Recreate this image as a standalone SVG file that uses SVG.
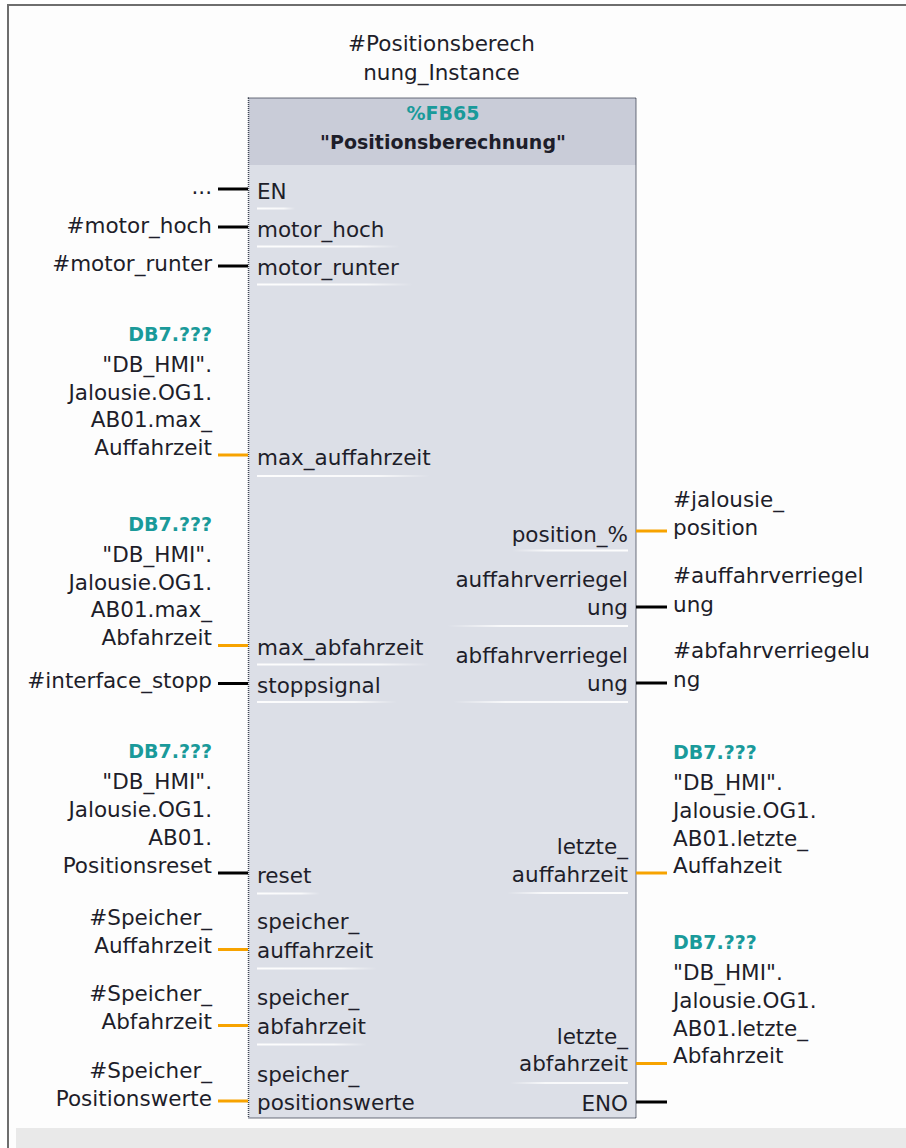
<svg xmlns="http://www.w3.org/2000/svg" width="906" height="1148" viewBox="0 0 906 1148">
<defs>
<style>
.t{font-family:"DejaVu Sans","Liberation Sans",sans-serif;font-size:21.5px;fill:#1e1e2a}
.e{text-anchor:end}
.c{text-anchor:middle}
.a{font-weight:bold;font-size:19px;fill:#1a9a9a}
.hb{font-weight:bold;font-size:19px;fill:#1e1e2a}
.w{stroke-width:3;fill:none}
.k{stroke:#000}
.o{stroke:#f7a300}
</style>
<linearGradient id="gL" x1="0" y1="0" x2="1" y2="0">
<stop offset="0" stop-color="#fff" stop-opacity="0.95"/>
<stop offset="0.7" stop-color="#fff" stop-opacity="0.8"/>
<stop offset="1" stop-color="#fff" stop-opacity="0"/>
</linearGradient>
<linearGradient id="gR" x1="1" y1="0" x2="0" y2="0">
<stop offset="0" stop-color="#fff" stop-opacity="0.95"/>
<stop offset="0.7" stop-color="#fff" stop-opacity="0.8"/>
<stop offset="1" stop-color="#fff" stop-opacity="0"/>
</linearGradient>
</defs>
<rect x="0" y="0" width="906" height="1148" fill="#fff"/>
<rect x="8" y="5" width="898" height="1143" fill="#fdfdfd"/>
<line x1="7" y1="5" x2="906" y2="5" stroke="#6e6e6e" stroke-width="2"/>
<line x1="8" y1="4" x2="8" y2="1148" stroke="#6e6e6e" stroke-width="2"/>
<rect x="16" y="1128" width="890" height="20" fill="#e9e9e9"/>

<g id="instance">
<text class="t c" x="441.5" y="51">#Positionsberech</text>
<text class="t c" x="441.5" y="79.5">nung_Instance</text>
</g>

<g id="fb65">
<rect x="248.5" y="98" width="387.5" height="1020" fill="#dcdfe7"/>
<rect x="248.5" y="98" width="387.5" height="67" fill="#c9ccd8"/>
<rect x="248.5" y="98" width="387.5" height="1020" fill="none" stroke="#3e4452" stroke-width="1.5" stroke-dasharray="1 1"/>
<text class="t c a" x="443" y="119.5">%FB65</text>
<text class="t c hb" x="443" y="148.5">"Positionsberechnung"</text>
<g id="fb65-inputs">
<text class="t" x="257" y="199">EN</text>
<text class="t" x="257" y="237">motor_hoch</text>
<text class="t" x="257" y="275">motor_runter</text>
<text class="t" x="257" y="465">max_auffahrzeit</text>
<text class="t" x="257" y="655">max_abfahrzeit</text>
<text class="t" x="257" y="693">stoppsignal</text>
<text class="t" x="257" y="883">reset</text>
<text class="t" x="257" y="929">speicher_</text>
<text class="t" x="257" y="958">auffahrzeit</text>
<text class="t" x="257" y="1005">speicher_</text>
<text class="t" x="257" y="1033.5">abfahrzeit</text>
<text class="t" x="257" y="1081.5">speicher_</text>
<text class="t" x="257" y="1110">positionswerte</text>
<rect x="257" y="207.5" width="38" height="2" fill="url(#gL)"/>
<rect x="257" y="245.5" width="143" height="2" fill="url(#gL)"/>
<rect x="257" y="283.5" width="156" height="2" fill="url(#gL)"/>
<rect x="257" y="475" width="173" height="2" fill="url(#gL)"/>
<rect x="257" y="663.5" width="173" height="2" fill="url(#gL)"/>
<rect x="257" y="701" width="140" height="2" fill="url(#gL)"/>
<rect x="257" y="892.5" width="63" height="2" fill="url(#gL)"/>
<rect x="257" y="967.5" width="120" height="2" fill="url(#gL)"/>
<rect x="257" y="1043.5" width="110" height="2" fill="url(#gL)"/>
</g>
<g id="fb65-outputs">
<text class="t e" x="628" y="541.5">position_%</text>
<text class="t e" x="628" y="587">auffahrverriegel</text>
<text class="t e" x="628" y="615">ung</text>
<text class="t e" x="628" y="662.5">abffahrverriegel</text>
<text class="t e" x="628" y="690.5">ung</text>
<text class="t e" x="628" y="853.5">letzte_</text>
<text class="t e" x="628" y="881.5">auffahrzeit</text>
<text class="t e" x="628" y="1043.5">letzte_</text>
<text class="t e" x="628" y="1071">abfahrzeit</text>
<text class="t e" x="628" y="1111">ENO</text>
<rect x="512" y="549.5" width="116" height="2" fill="url(#gR)"/>
<rect x="447" y="625" width="181" height="2" fill="url(#gR)"/>
<rect x="453" y="701" width="175" height="2" fill="url(#gR)"/>
<rect x="507" y="892" width="121" height="2" fill="url(#gR)"/>
<rect x="510" y="1082" width="118" height="2" fill="url(#gR)"/>
</g>
</g>

<g id="in-en"><text class="t e" x="212" y="194">...</text></g>
<g id="in-motor-hoch"><text class="t e" x="212" y="233">#motor_hoch</text></g>
<g id="in-motor-runter"><text class="t e" x="212" y="270.5">#motor_runter</text></g>
<g id="in-max-auf">
<text class="t e a" x="212" y="340.5">DB7.???</text>
<text class="t e" x="212" y="371.5">"DB_HMI".</text>
<text class="t e" x="212" y="399.5">Jalousie.OG1.</text>
<text class="t e" x="212" y="427.2">AB01.max_</text>
<text class="t e" x="212" y="455">Auffahrzeit</text>
</g>
<g id="in-max-ab">
<text class="t e a" x="212" y="530.5">DB7.???</text>
<text class="t e" x="212" y="561.5">"DB_HMI".</text>
<text class="t e" x="212" y="589.5">Jalousie.OG1.</text>
<text class="t e" x="212" y="617.2">AB01.max_</text>
<text class="t e" x="212" y="645">Abfahrzeit</text>
</g>
<g id="in-stopp"><text class="t e" x="212" y="688">#interface_stopp</text></g>
<g id="in-reset">
<text class="t e a" x="212" y="758.2">DB7.???</text>
<text class="t e" x="212" y="789.2">"DB_HMI".</text>
<text class="t e" x="212" y="817.2">Jalousie.OG1.</text>
<text class="t e" x="212" y="845">AB01.</text>
<text class="t e" x="212" y="872.7">Positionsreset</text>
</g>
<g id="in-sp-auf">
<text class="t e" x="212" y="925">#Speicher_</text>
<text class="t e" x="212" y="952.7">Auffahrzeit</text>
</g>
<g id="in-sp-ab">
<text class="t e" x="212" y="1001">#Speicher_</text>
<text class="t e" x="212" y="1029">Abfahrzeit</text>
</g>
<g id="in-sp-pos">
<text class="t e" x="212" y="1078.3">#Speicher_</text>
<text class="t e" x="212" y="1106">Positionswerte</text>
</g>

<g id="out-position">
<text class="t" x="673" y="506.5">#jalousie_</text>
<text class="t" x="673" y="535">position</text>
</g>
<g id="out-auf-verr">
<text class="t" x="673" y="583">#auffahrverriegel</text>
<text class="t" x="673" y="611.5">ung</text>
</g>
<g id="out-ab-verr">
<text class="t" x="673" y="658">#abfahrverriegelu</text>
<text class="t" x="673" y="686.5">ng</text>
</g>
<g id="out-letzte-auf">
<text class="t a" x="673" y="758.8">DB7.???</text>
<text class="t" x="673" y="789.8">"DB_HMI".</text>
<text class="t" x="673" y="817.8">Jalousie.OG1.</text>
<text class="t" x="673" y="845.5">AB01.letzte_</text>
<text class="t" x="673" y="873.3">Auffahzeit</text>
</g>
<g id="out-letzte-ab">
<text class="t a" x="673" y="948.8">DB7.???</text>
<text class="t" x="673" y="979.8">"DB_HMI".</text>
<text class="t" x="673" y="1007.8">Jalousie.OG1.</text>
<text class="t" x="673" y="1035.5">AB01.letzte_</text>
<text class="t" x="673" y="1063.3">Abfahrzeit</text>
</g>

<g id="connectors">
<line class="w k" x1="218" y1="189" x2="248" y2="189"/>
<line class="w k" x1="218" y1="227" x2="248" y2="227"/>
<line class="w k" x1="218" y1="266" x2="248" y2="266"/>
<line class="w o" x1="218" y1="455" x2="248" y2="455"/>
<line class="w o" x1="218" y1="645.5" x2="248" y2="645.5"/>
<line class="w k" x1="218" y1="683.5" x2="248" y2="683.5"/>
<line class="w k" x1="218" y1="873" x2="248" y2="873"/>
<line class="w o" x1="218" y1="949.5" x2="248" y2="949.5"/>
<line class="w o" x1="218" y1="1025.5" x2="248" y2="1025.5"/>
<line class="w o" x1="218" y1="1101" x2="248" y2="1101"/>
<line class="w o" x1="636" y1="531" x2="667" y2="531"/>
<line class="w k" x1="636" y1="607" x2="667" y2="607"/>
<line class="w k" x1="636" y1="683" x2="667" y2="683"/>
<line class="w o" x1="636" y1="873" x2="667" y2="873"/>
<line class="w o" x1="636" y1="1063.5" x2="667" y2="1063.5"/>
<line class="w k" x1="636" y1="1102" x2="667" y2="1102"/>
</g>
</svg>
